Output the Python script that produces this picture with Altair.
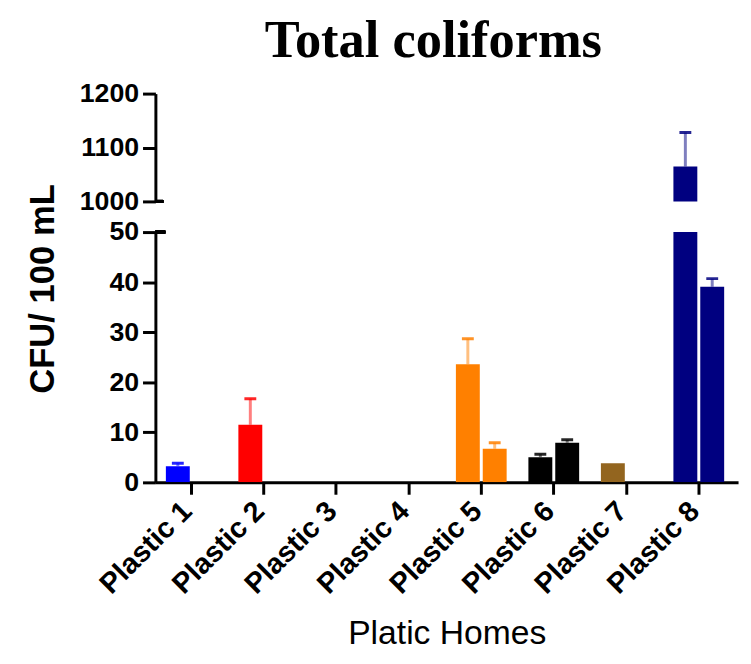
import altair as alt
import pandas as pd

categories = ["Plastic 1", "Plastic 2", "Plastic 3", "Plastic 4",
              "Plastic 5", "Plastic 6", "Plastic 7", "Plastic 8"]
colors = ["#0000ff", "#ff0000", "#808080", "#808080",
          "#ff8000", "#000000", "#93651f", "#000080"]
series_names = ["Sample A", "Sample B"]
mean_a = [3.2, 11.5, None, None, 23.6, 5.0, 3.8, 1065]
upper_a = [3.8, 16.7, None, None, 28.7, 5.6, None, 1128]
mean_b = [None, None, None, None, 6.7, 7.9, None, 39.1]
upper_b = [None, None, None, None, 7.9, 8.5, None, 40.7]

rows = []
for i, c in enumerate(categories):
    rows.append({"cat": c, "series": series_names[0], "mean": mean_a[i], "upper": upper_a[i]})
    rows.append({"cat": c, "series": series_names[1], "mean": mean_b[i], "upper": upper_b[i]})
df = pd.DataFrame(rows)
bar_df = df.dropna(subset=["mean"])
err_df = df.dropna(subset=["mean", "upper"])

FONT = "Liberation Sans"
color_enc = alt.Color("cat:N", scale=alt.Scale(domain=categories, range=colors), legend=None)
xo = alt.XOffset("series:N", scale=alt.Scale(domain=series_names, paddingInner=0.11))


def panel(domain, height, yvalues, show_x, ytitle, brk_y, brk_len):
    xscale = alt.Scale(domain=categories, paddingInner=0.3, paddingOuter=0.168, align=0.43)
    if show_x:
        x = alt.X("cat:N", scale=xscale, sort=categories,
                  axis=alt.Axis(title="Platic Homes", labelAngle=315, labelAlign="right",
                                labelBaseline="middle", tickSize=12, labelPadding=12,
                                labelOffset=-4, labelFontSize=29,
                                titleFontSize=34, titleFontWeight="normal", titlePadding=18))
    else:
        x = alt.X("cat:N", scale=xscale, sort=categories, axis=None)
    if ytitle:
        yaxis = alt.Axis(values=yvalues, format="d", title=ytitle, tickSize=13, labelPadding=4,
                         titleFontSize=35, titleFontWeight="bold", titleAngle=270,
                         titleAlign="center", titleBaseline="bottom", titleX=-96, titleY=57)
    else:
        yaxis = alt.Axis(values=yvalues, format="d", title=None, tickSize=13, labelPadding=4)
    yscale = alt.Scale(domain=domain, zero=False, nice=False)

    bars = alt.Chart(bar_df).mark_bar(clip=True).encode(
        x=x, xOffset=xo,
        y=alt.Y("mean:Q", scale=yscale, axis=yaxis, title=ytitle),
        color=color_enc)
    stems = alt.Chart(err_df).mark_rule(clip=True, strokeWidth=3, opacity=0.5).encode(
        x=x, xOffset=xo,
        y=alt.Y("mean:Q", scale=yscale, axis=yaxis, title=ytitle),
        y2="upper:Q",
        color=color_enc)
    caps = alt.Chart(err_df).mark_tick(clip=True, thickness=3, size=12, opacity=0.85).encode(
        x=x, xOffset=xo,
        y=alt.Y("upper:Q", scale=yscale, axis=yaxis, title=ytitle),
        color=color_enc)
    brk = alt.Chart(bar_df).mark_rule(strokeWidth=3, color="black").encode(
        x=alt.value(0), x2=alt.value(brk_len), y=alt.value(brk_y))
    return alt.layer(bars, stems, caps, brk).properties(width=589, height=height)


top = panel([1000, 1200], 109, [1000, 1100, 1200], False, None, 109, 8)
bottom = panel([0, 50], 253, [0, 10, 20, 30, 40, 50], True, "CFU/ 100 mL", 0, 10)

chart = alt.vconcat(top, bottom, spacing=31, bounds="flush").properties(
    title=alt.TitleParams("Total coliforms", font="Liberation Serif", fontSize=53,
                          fontWeight="bold", anchor="middle", color="black", offset=12, dx=52),
    padding={"left": 18, "top": 4, "right": 5, "bottom": 2},
).configure_view(stroke=None).configure_axis(
    domainWidth=3, domainColor="black", tickWidth=3, tickColor="black",
    labelFont=FONT, labelFontSize=27, labelFontWeight="bold", labelColor="black",
    titleFont=FONT, titleColor="black", grid=False,
)

chart.save("out.html", embed_options={"renderer": "svg", "actions": False})
